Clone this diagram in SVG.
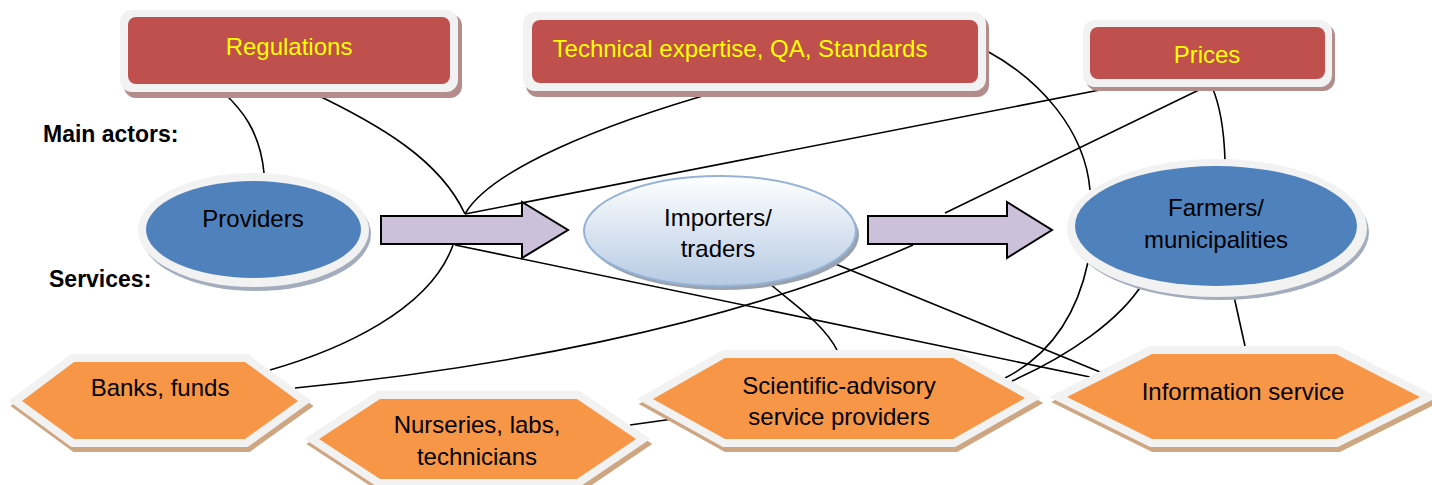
<svg xmlns="http://www.w3.org/2000/svg" xmlns:xlink="http://www.w3.org/1999/xlink" width="1432" height="485" viewBox="0 0 1432 485">
<defs>
<style>
.lbl{font-family:"Liberation Sans",Arial,sans-serif;font-size:24px;fill:#000;text-anchor:middle}
.ylw{fill:#ffff00}
.bold{font-weight:bold;text-anchor:start;font-size:23px}
.con{fill:none;stroke:#000;stroke-width:1.6}
.ring{fill:#f2f2f2}
.red{fill:#c0504d}
.rsh{fill:#b58c8c}
.blue{fill:#4f81bd}
.esh{fill:#a3adbe}
.hring{fill:#f2f2f2;stroke:#f2f2f2;stroke-width:16;stroke-linejoin:miter}
.hsh{fill:#cfa682;stroke:#cfa682;stroke-width:16;stroke-linejoin:miter}
.hex{fill:#f79646}
.arrow{fill:#ccc0da;stroke:#000;stroke-width:2;stroke-linejoin:miter}
</style>
<linearGradient id="gImp" x1="0" y1="0" x2="0" y2="1">
<stop offset="0" stop-color="#ffffff"/>
<stop offset="1" stop-color="#b6cae3"/>
</linearGradient>
<polygon id="hBanks" points="22,401 74,362 245,362 298,401 245,439 74,439"/>
<polygon id="hNurs" points="319,439 380,399 577,399 636,439 577,479 380,479"/>
<polygon id="hSci" points="653,399 725,358 953,358 1025,398 953,439 725,439"/>
<polygon id="hInfo" points="1067,397 1152,354 1336,354 1420,397 1336,439 1152,439"/>
</defs>
<rect width="1432" height="485" fill="#ffffff"/>

<g id="connectors">
<path class="con" d="M224,93 C240,108 260,130 264,173"/>
<path class="con" d="M313,93 C380,125 440,160 465,214"/>
<path class="con" d="M720,91 C600,125 490,170 465,214"/>
<path class="con" d="M1115,87 L465,214"/>
<path class="con" d="M455,245 L1090,377"/>
<path class="con" d="M833,263 L1100,372"/>
<path class="con" d="M770,284 C795,305 825,325 838,352"/>
<path class="con" d="M295,388 C480,370 720,330 913,245"/>
<path class="con" d="M945,213 L1205,87"/>
<path class="con" d="M270,370 C340,350 430,310 453,245"/>
<path class="con" d="M630,425 L680,418"/>
<path class="con" d="M987,51 C1040,80 1085,130 1090,190"/>
<path class="con" d="M1212,87 C1220,105 1224,130 1225,160"/>
<path class="con" d="M1233,292 L1245,346"/>
<path class="con" d="M1088,262 C1080,300 1060,350 1005,378"/>
<path class="con" d="M1143,283 C1120,320 1070,355 1012,381"/>
</g>

<g id="regulations">
<rect class="rsh" x="124" y="14" width="338" height="84" rx="12"/>
<rect class="ring" x="120" y="10" width="338" height="82" rx="12"/>
<rect class="red" x="128" y="17" width="322" height="67" rx="8"/>
<text class="lbl ylw" x="289" y="55">Regulations</text>
</g>

<g id="technical">
<rect class="rsh" x="526" y="16" width="463" height="81" rx="12"/>
<rect class="ring" x="523" y="12" width="463" height="79" rx="12"/>
<rect class="red" x="532" y="20" width="446" height="63" rx="8"/>
<text class="lbl ylw" x="740" y="57">Technical expertise, QA, Standards</text>
</g>

<g id="prices">
<rect class="rsh" x="1086" y="24" width="249" height="67" rx="12"/>
<rect class="ring" x="1083" y="20" width="249" height="67" rx="12"/>
<rect class="red" x="1090" y="27" width="235" height="52" rx="8"/>
<text class="lbl ylw" x="1207" y="63">Prices</text>
</g>

<g id="labels">
<text class="lbl bold" x="43" y="142">Main actors:</text>
<text class="lbl bold" x="49" y="287">Services:</text>
</g>

<g id="providers">
<ellipse class="esh" cx="256" cy="234" rx="115" ry="57"/>
<ellipse class="ring" cx="253.5" cy="230" rx="115.5" ry="57"/>
<ellipse class="blue" cx="253.5" cy="229.5" rx="107.5" ry="48.5"/>
<text class="lbl" x="253" y="227">Providers</text>
</g>

<g id="arrow1">
<polygon class="arrow" points="381,216 522,216 522,202 568,230 522,258 522,244 381,244"/>
</g>

<g id="importers">
<ellipse cx="723" cy="235" rx="136" ry="55" fill="#9aa2ad"/>
<ellipse cx="720" cy="231" rx="136" ry="55" fill="url(#gImp)" stroke="#95b3d7" stroke-width="2"/>
<text class="lbl" x="718" y="226">Importers/</text>
<text class="lbl" x="718" y="257">traders</text>
</g>

<g id="arrow2">
<polygon class="arrow" points="868,216 1007,216 1007,202 1052,230 1007,258 1007,244 868,244"/>
</g>

<g id="farmers">
<ellipse class="esh" cx="1220" cy="232" rx="149" ry="68"/>
<ellipse class="ring" cx="1217" cy="228" rx="150" ry="69"/>
<ellipse class="blue" cx="1216" cy="226" rx="141" ry="60"/>
<text class="lbl" x="1216" y="216">Farmers/</text>
<text class="lbl" x="1216" y="248">municipalities</text>
</g>

<g id="banks">
<use xlink:href="#hBanks" class="hsh" transform="translate(2,5)"/>
<use xlink:href="#hBanks" class="hring"/>
<use xlink:href="#hBanks" class="hex"/>
<text class="lbl" x="160" y="396">Banks, funds</text>
</g>

<g id="nurseries">
<use xlink:href="#hNurs" class="hsh" transform="translate(2,5)"/>
<use xlink:href="#hNurs" class="hring"/>
<use xlink:href="#hNurs" class="hex"/>
<text class="lbl" x="477" y="433">Nurseries, labs,</text>
<text class="lbl" x="477" y="465">technicians</text>
</g>

<g id="scientific">
<use xlink:href="#hSci" class="hsh" transform="translate(2,5)"/>
<use xlink:href="#hSci" class="hring"/>
<use xlink:href="#hSci" class="hex"/>
<text class="lbl" x="839" y="394">Scientific-advisory</text>
<text class="lbl" x="839" y="425">service providers</text>
</g>

<g id="information">
<use xlink:href="#hInfo" class="hsh" transform="translate(2,5)"/>
<use xlink:href="#hInfo" class="hring"/>
<use xlink:href="#hInfo" class="hex"/>
<text class="lbl" x="1243" y="400">Information service</text>
</g>
</svg>
